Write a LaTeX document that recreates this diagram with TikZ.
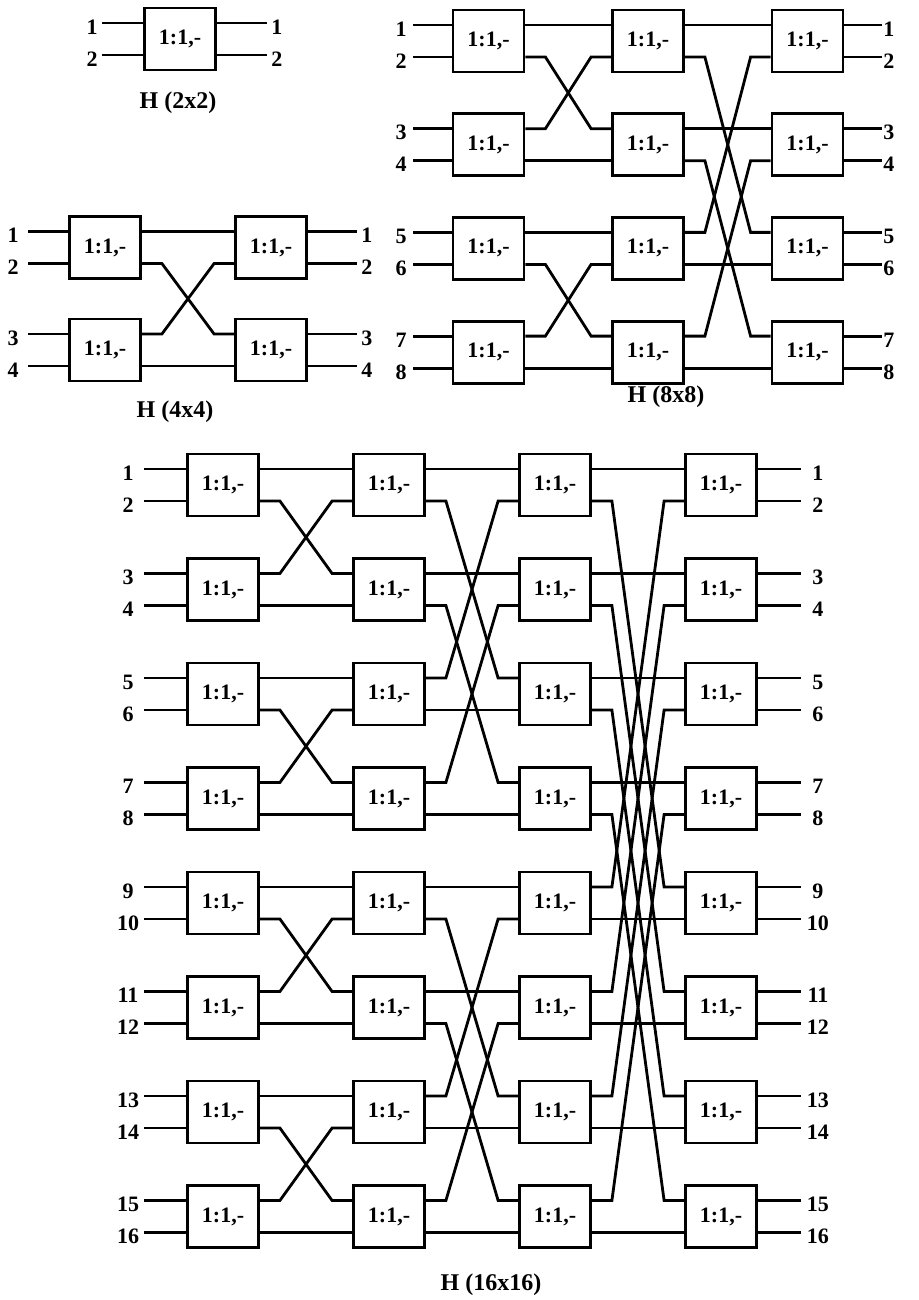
\documentclass[tikz,border=0pt]{standalone}
\usepackage{fontspec}
\setmainfont{Liberation Serif}
\tikzset{
  blk/.style={draw, line width=1.4pt, minimum width=35.5pt, minimum height=31pt, inner sep=0pt, font=\fontsize{11}{13}\selectfont\bfseries},
  wire/.style={line width=1.4pt},
  num/.style={font=\fontsize{11}{13}\selectfont\bfseries, inner sep=0pt},
  ttl/.style={font=\fontsize{12}{14}\selectfont\bfseries, inner sep=0pt}
}
\newcommand\mkbox[3]{%
  \node[blk] (#1) at (#2,#3) {1:1,-};
  \coordinate (#1-it) at ([yshift=8pt]#1.west);
  \coordinate (#1-ib) at ([yshift=-8pt]#1.west);
  \coordinate (#1-ot) at ([yshift=8pt]#1.east);
  \coordinate (#1-ob) at ([yshift=-8pt]#1.east);}
% #1 from prefix, #2 to prefix, #3 half size h, #4 last box index
\newcommand\links[4]{%
  \foreach \k in {0,...,#4}{%
    \pgfmathtruncatemacro\r{mod(\k,2*#3)}%
    \ifnum\r<#3\relax
      \pgfmathtruncatemacro\m{\k+#3}%
      \draw[wire] (#1\k-ot) -- (#2\k-it);
      \draw[wire] (#1\k-ob) -- ++(10pt,0pt) -- ([xshift=-10pt]#2\m-it) -- (#2\m-it);
    \else
      \pgfmathtruncatemacro\m{\k-#3}%
      \draw[wire] (#1\k-ob) -- (#2\k-ib);
      \draw[wire] (#1\k-ot) -- ++(10pt,0pt) -- ([xshift=-10pt]#2\m-ib) -- (#2\m-ib);
    \fi
  }}
% #1 first-column prefix, #2 last-column prefix, #3 last box index, #4 in length, #5 in label dist, #6 out length, #7 out label dist, #8 tag
\newcommand\ports[8]{%
  \foreach \k in {0,...,#3}{%
    \pgfmathtruncatemacro\na{2*\k+1}%
    \pgfmathtruncatemacro\nb{2*\k+2}%
    \coordinate (#8i\na) at ([xshift=-#4]#1\k-it);
    \coordinate (#8i\nb) at ([xshift=-#4]#1\k-ib);
    \coordinate (#8o\na) at ([xshift=#6]#2\k-ot);
    \coordinate (#8o\nb) at ([xshift=#6]#2\k-ob);
    \draw[wire] (#8i\na) -- (#1\k-it);
    \draw[wire] (#8i\nb) -- (#1\k-ib);
    \draw[wire] (#2\k-ot) -- (#8o\na);
    \draw[wire] (#2\k-ob) -- (#8o\nb);
    \node[num] (#8li\na) at ([xshift=-#5,yshift=-2pt]#8i\na) {\na};
    \node[num] (#8li\nb) at ([xshift=-#5,yshift=-2pt]#8i\nb) {\nb};
    \node[num] (#8lo\na) at ([xshift=#7,yshift=-2pt]#8o\na) {\na};
    \node[num] (#8lo\nb) at ([xshift=#7,yshift=-2pt]#8o\nb) {\nb};
  }}
\begin{document}
\begin{tikzpicture}[x=0.5pt,y=-0.5pt]
\useasboundingbox (0,0) rectangle (919,1300);
% ---------- H (2x2)
\mkbox{pa0}{180}{39}
\ports{pa}{pa}{0}{20.5pt}{5pt}{25pt}{5pt}{p}
\node[ttl] (t2) at (178,103) {H (2x2)};
% ---------- H (4x4)
\foreach \k/\yy in {0/247.5,1/350}{%
  \mkbox{qa\k}{105}{\yy}
  \mkbox{qb\k}{271}{\yy}}
\links{qa}{qb}{1}{1}
\ports{qa}{qb}{1}{20pt}{7.5pt}{24.5pt}{5pt}{q}
\node[ttl] (t4) at (175,412) {H (4x4)};
% ---------- H (8x8)
\foreach \k in {0,...,3}{%
  \pgfmathsetmacro\yy{41+103.7*\k}%
  \mkbox{ra\k}{488.5}{\yy}
  \mkbox{rb\k}{648}{\yy}
  \mkbox{rc\k}{807.5}{\yy}}
\links{ra}{rb}{1}{3}
\links{rb}{rc}{2}{3}
\ports{ra}{rc}{3}{19.25pt}{6pt}{18.75pt}{3.5pt}{r}
\node[ttl] (t8) at (666,397) {H (8x8)};
% ---------- H (16x16)
\foreach \k in {0,...,7}{%
  \pgfmathsetmacro\yy{485+104.5*\k}%
  \mkbox{sa\k}{223}{\yy}
  \mkbox{sb\k}{389}{\yy}
  \mkbox{sc\k}{555}{\yy}
  \mkbox{sd\k}{721}{\yy}}
\links{sa}{sb}{1}{7}
\links{sb}{sc}{2}{7}
\links{sc}{sd}{4}{7}
\ports{sa}{sd}{7}{21pt}{8pt}{21.5pt}{8.5pt}{s}
\node[ttl] (t16) at (491,1285) {H (16x16)};
\end{tikzpicture}
\end{document}
